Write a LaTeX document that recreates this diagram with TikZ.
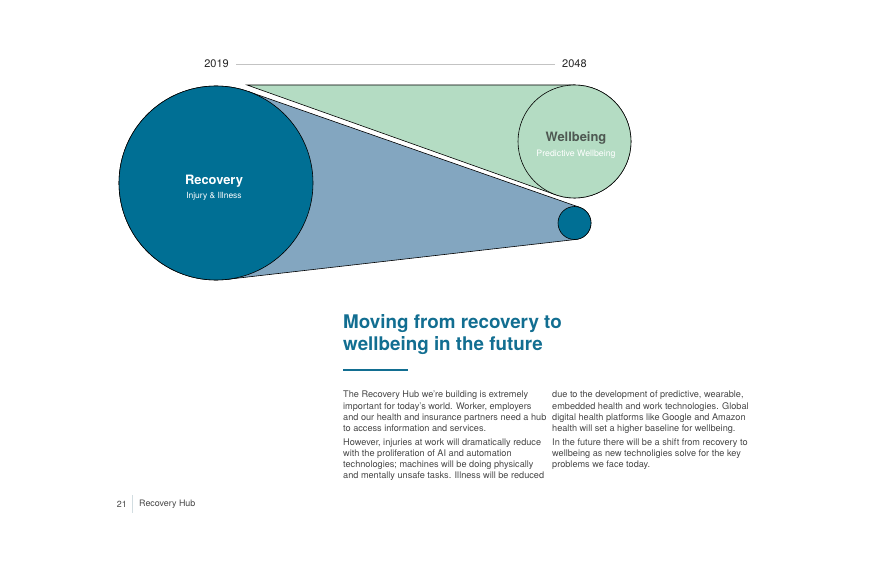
\documentclass[tikz,border=0pt]{standalone}
\usepackage{fontspec}
\setmainfont{TeX Gyre Heros}
\definecolor{recblue}{RGB}{0,111,148}
\definecolor{trapblue}{RGB}{131,166,192}
\definecolor{wellgreen}{RGB}{180,220,195}
\definecolor{headblue}{RGB}{18,110,145}
\definecolor{bodygray}{RGB}{70,70,70}
\definecolor{wellgray}{RGB}{78,88,82}
\definecolor{rulegray}{RGB}{195,195,195}
\tikzset{
  bubble/.style={circle,draw=black,line width=0.6pt,inner sep=0pt,outer sep=0pt},
  bodytext/.style={anchor=north west,inner sep=0pt,align=left,text=bodygray,
    font=\fontsize{9.15}{11.2}\selectfont},
  yearlabel/.style={inner sep=0pt,font=\fontsize{11}{12}\selectfont,text=black!85}
}
\begin{document}
\begin{tikzpicture}[x=1pt,y=-1pt]
  \useasboundingbox (0,0) rectangle (882,580);
  % timeline
  \node[yearlabel,anchor=east] (y2019) at (229,64) {2019};
  \node[yearlabel,anchor=west] (y2048) at (562,64) {2048};
  \draw[rulegray,line width=0.5pt] ([xshift=-7pt]y2048.west) -- ([xshift=7pt]y2019.east);
  % circles
  \node[bubble,minimum size=194pt] (rec) at (216,183) {};
  \node[bubble,minimum size=113pt] (well) at (574.5,141.5) {};
  \node[bubble,minimum size=33pt] (sml) at (574.5,223) {};
  \coordinate (tip) at (247,85);
  % cones behind the circles
  \fill[trapblue] (rec.70.7) -- (sml.70.7) -- (sml.-83.5) -- (rec.-83.5) -- cycle;
  \draw[line width=0.6pt] (rec.70.7) -- (sml.70.7) (sml.-83.5) -- (rec.-83.5);
  \fill[wellgreen] (tip) -- (well.north) -- (well.-109.4) -- cycle;
  \draw[line width=0.6pt] (well.north) -- (tip) -- (well.-109.4);
  % circles on top
  \node[bubble,fill=recblue,minimum size=194pt] at (rec) {};
  \node[bubble,fill=wellgreen,minimum size=113pt] at (well) {};
  \node[bubble,fill=recblue,minimum size=33pt] at (sml) {};
  \node[text=white,font=\bfseries\fontsize{12.9}{14}\selectfont] (rectitle) at (214,181) {Recovery};
  \node[text=white,font=\fontsize{8.5}{9}\selectfont] (recsub) at (214,196) {Injury \& Illness};
  \node[text=wellgray,font=\bfseries\fontsize{12.9}{14}\selectfont] (welltitle) at (576,138) {Wellbeing};
  \node[text=white,font=\fontsize{8.8}{9}\selectfont] (wellsub) at (576,154) {Predictive Wellbeing};
  % heading
  \node[anchor=north west,inner sep=0pt,align=left,text=headblue,
    font=\bfseries\fontsize{18.8}{22}\selectfont] (head) at (343,314)
    {Moving from recovery to\\wellbeing in the future};
  \draw[headblue,line width=2.5pt] (343,370) -- (408,370);
  % columns
  \node[bodytext] (colA) at (343,391) {The Recovery Hub we're building is extremely\\
    important for today's world. Worker, employers\\
    and our health and insurance partners need a hub\\
    to access information and services.\\[2.6pt]
    However, injuries at work will dramatically reduce\\
    with the proliferation of AI and automation\\
    technologies; machines will be doing physically\\
    and mentally unsafe tasks. Illness will be reduced};
  \node[bodytext] (colB) at (552,391) {due to the development of predictive, wearable,\\
    embedded health and work technologies. Global\\
    digital health platforms like Google and Amazon\\
    health will set a higher baseline for wellbeing.\\[2.6pt]
    In the future there will be a shift from recovery to\\
    wellbeing as new technoligies solve for the key\\
    problems we face today.};
  % footer
  \node[anchor=east,inner sep=0pt,text=bodygray,font=\fontsize{8.9}{10}\selectfont] (pageno) at (127,504) {21};
  \node[anchor=west,inner sep=0pt,text=bodygray,font=\fontsize{8.9}{10}\selectfont] (hub) at (139,504) {Recovery Hub};
  \draw[rulegray!70!headblue!40,line width=0.5pt] (pageno.east) ++(5,-9) -- ++(0,18);
\end{tikzpicture}
\end{document}
